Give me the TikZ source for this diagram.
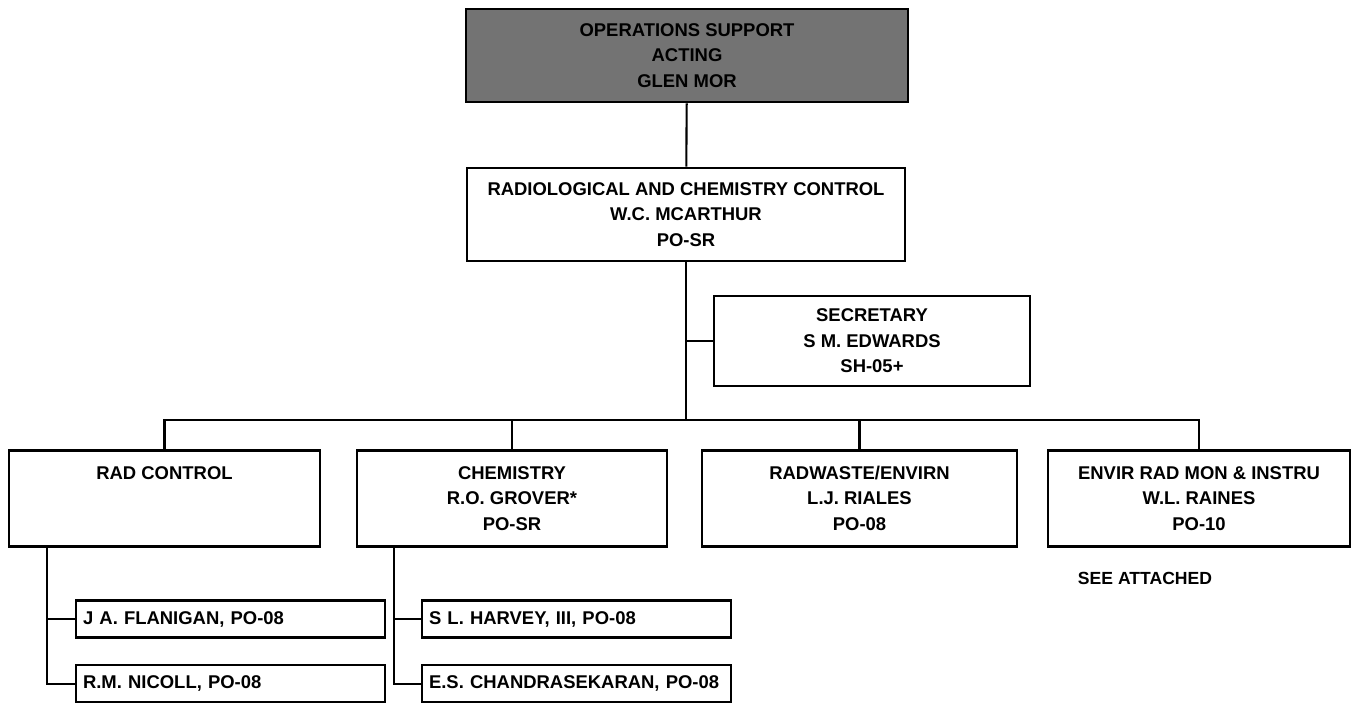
\documentclass[tikz,border=0pt]{standalone}
\usepackage{fontspec}
\setmainfont{Liberation Sans}
\usetikzlibrary{positioning}

\tikzset{
  unitbox/.style={draw, line width=1.5pt, align=center, inner sep=2pt,
    font=\fontsize{10.5}{14.5}\selectfont\bfseries},
  headbox/.style={unitbox, fill=black!55},
  staffbox/.style={draw, line width=1.5pt, align=left, inner xsep=4pt,
    font=\fontsize{10.5}{12}\selectfont\bfseries,
    minimum width=6.18cm, minimum height=0.74cm, text width=5.9cm},
  link/.style={line width=1.2pt},
}

\begin{document}
\begin{tikzpicture}[x=0.02cm, y=-0.02cm]
\useasboundingbox (0,0) rectangle (1353,710);
    % define boxes
    % head of the unit
    \node[headbox, minimum width=8.84cm, minimum height=1.86cm] (head) at (687,55.5)
        {OPERATIONS SUPPORT\\ ACTING\\ GLEN MOR};
    \node[unitbox, minimum width=8.76cm, minimum height=1.86cm] (rcc) at (686,214.5)
        {RADIOLOGICAL AND CHEMISTRY CONTROL\\ W.C. MCARTHUR\\ PO-SR};
    % staff
    \node[unitbox, minimum width=6.32cm, minimum height=1.8cm] (sec) at (872,341)
        {SECRETARY\\ S M. EDWARDS\\ SH-05+};
    % sections
    \node[unitbox, anchor=north, minimum width=6.22cm, minimum height=1.92cm] (rad) at (164.5,449)
        {RAD CONTROL\\ ~\\ ~};
    \node[unitbox, anchor=north, minimum width=6.2cm, minimum height=1.92cm] (chem) at (512,449)
        {CHEMISTRY\\ R.O. GROVER*\\ PO-SR};
    \node[unitbox, anchor=north, minimum width=6.3cm, minimum height=1.92cm] (radw) at (859.5,449)
        {RADWASTE/ENVIRN\\ L.J. RIALES\\ PO-08};
    \node[unitbox, anchor=north, minimum width=6.04cm, minimum height=1.92cm] (envir) at (1199,449)
        {ENVIR RAD MON \& INSTRU\\ W.L. RAINES\\ PO-10};
    \node[font=\fontsize{10}{12}\selectfont\bfseries] (attached) at (1145,578) {SEE ATTACHED};
    % people in rad control
    \node[staffbox] (flan) at (230.5,619) {J A. FLANIGAN, PO-08};
    \node[staffbox, below=0.5cm of flan] (nicoll) {R.M. NICOLL, PO-08};
    % people in chemistry
    \node[staffbox] (harvey) at (576.5,619) {S L. HARVEY, III, PO-08};
    \node[staffbox, below=0.5cm of harvey] (chandra) {E.S. CHANDRASEKARAN, PO-08};
    % taps and bus
    \coordinate (bus) at (686,420);
    \coordinate (radtap) at (47,0 |- rad.south);
    \coordinate (chemtap) at (394,0 |- chem.south);
    % draw connectors
    \draw[link] (head) -- (rcc);
    \draw[link] (rcc) -- (bus);
    \draw[link] (rcc.south |- sec.west) -- (sec.west);
    \draw[link] (rad.north) |- (bus) -| (envir.north);
    \draw[link] (chem.north) -- (chem.north |- bus);
    \draw[link] (radw.north) -- (radw.north |- bus);
    \draw[link] (radtap) |- (flan.west);
    \draw[link] (radtap) |- (nicoll.west);
    \draw[link] (chemtap) |- (harvey.west);
    \draw[link] (chemtap) |- (chandra.west);
\end{tikzpicture}
\end{document}
